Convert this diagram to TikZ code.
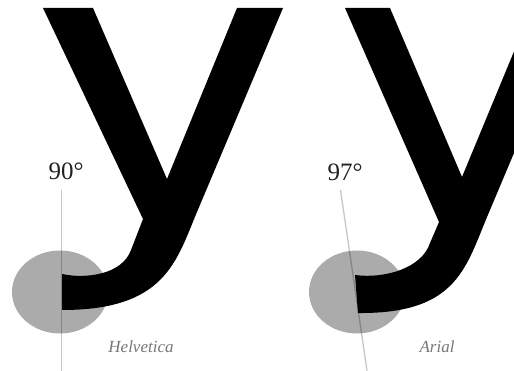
\documentclass[tikz,border=0pt]{standalone}
\usepackage{fontspec}
\setmainfont{Liberation Serif}
\definecolor{blobgray}{HTML}{ABABAB}
\definecolor{numcol}{HTML}{222222}
\definecolor{namecol}{HTML}{777777}
\tikzset{
  glyph/.style={fill=black},
  blob/.style={fill=blobgray},
  axisline/.style={draw=black, opacity=0.22, line width=1.3pt},
  anglelabel/.style={text=numcol, font=\fontsize{25}{30}\selectfont, inner sep=0pt},
  fontname/.style={text=namecol, font=\fontsize{17}{20}\selectfont\itshape, inner sep=0pt}
}
\begin{document}
\begin{tikzpicture}[x=1pt,y=-1pt]
\useasboundingbox (0,0) rectangle (514,371);
\clip (0,0) rectangle (514,371);
\fill[white] (0,0) rectangle (514,371);
% ellipses
\fill[blob] (60,292) ellipse [x radius=48, y radius=41.5];
\fill[blob] (357,292) ellipse [x radius=48, y radius=41.5];
% Helvetica y
\fill[glyph] (43,8) -- (93,8) -- (167,179) -- (237,8) -- (283,8) -- (197,212)
  .. controls (176,262) and (165,310) .. (62,310) -- (62,274)
  .. controls (85,279) and (122,275) .. (131,250) -- (143,219) -- cycle;
% Arial y
\fill[glyph] (345,8) -- (390,8) -- (462,177) -- (532,8) -- (575,8) -- (490,210)
  .. controls (466,265) and (460,314) .. (358,313) -- (355,275)
  .. controls (385,279) and (422,268) .. (430,243) -- (439,222) -- cycle;
% axis lines
\coordinate (l1a) at (61.5,190);
\coordinate (l1b) at (61.5,372);
\coordinate (l2a) at (340.5,190);
\coordinate (l2b) at (367.2,372);
\draw[axisline] (l1a) -- (l1b);
\draw[axisline] (l2a) -- (l2b);
% labels
\node[anglelabel] (a90) at (66,171) {90°};
\node[anglelabel] (a97) at (345,172) {97°};
\node[fontname] (helv) at (141,347) {Helvetica};
\node[fontname] (arial) at (437,347) {Arial};
\end{tikzpicture}
\end{document}
